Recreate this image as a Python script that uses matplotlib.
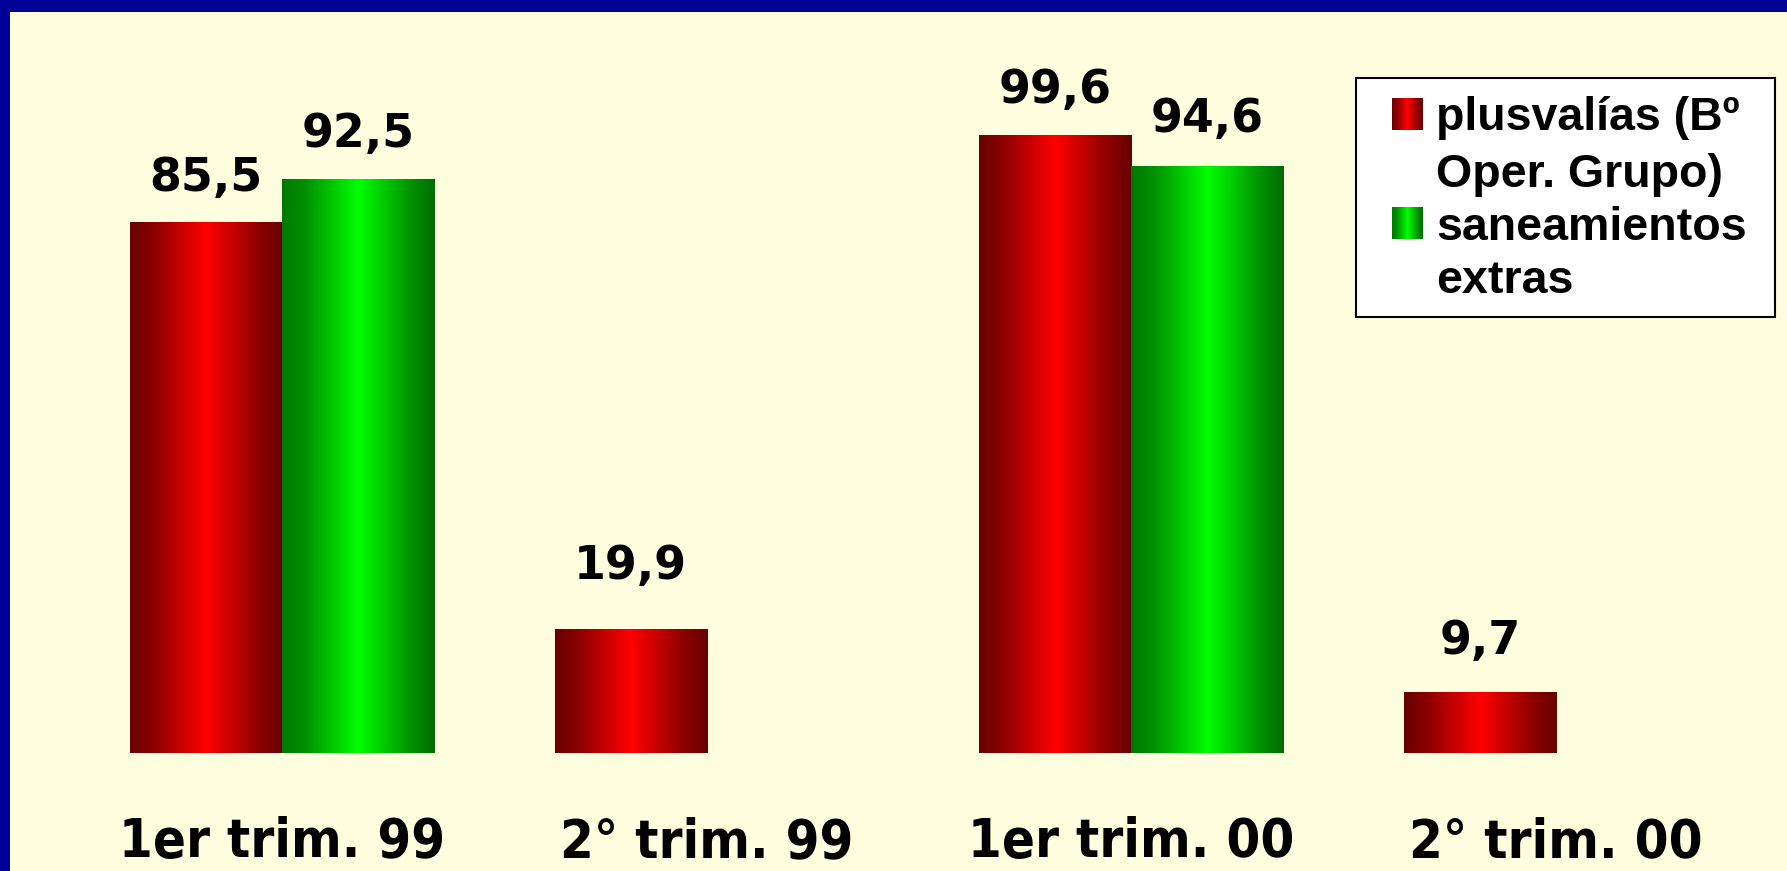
import numpy as np
import matplotlib
matplotlib.use("Agg")
import matplotlib.pyplot as plt
from matplotlib.colors import LinearSegmentedColormap
from matplotlib.patches import Rectangle

# quarterly figures (millones)
quarters = ["1er trim. 99", "2° trim. 99", "1er trim. 00", "2° trim. 00"]
plusvalias = [85.5, 19.9, 99.6, 9.7]
saneamientos = [92.5, 0.0, 94.6, 0.0]
series_names = ["plusvalías (Bº\nOper. Grupo)", "saneamientos\nextras"]

BG = "#FFFFE0"
W, H = 1787, 871

red_cmap = LinearSegmentedColormap.from_list(
    "redbar", [(0, "#680000"), (0.15, "#8a0000"), (0.5, "#ff0000"), (0.85, "#8a0000"), (1, "#680000")])
green_cmap = LinearSegmentedColormap.from_list(
    "greenbar", [(0, "#007800"), (0.15, "#009000"), (0.5, "#00ff00"), (0.85, "#009000"), (1, "#006c00")])
ramp = np.linspace(0, 1, 256).reshape(1, -1)

fig = plt.figure(figsize=(W / 100, H / 100), dpi=100, facecolor=BG)
ax = fig.add_axes([0, 0, 1, 1])
ax.set_facecolor(BG)
ax.axis("off")

step = 424.7       # px between groups
ppu = 6.2          # px per unit
x0 = -282 / step
y0 = -118 / ppu
xlim = (x0, x0 + W / step)
ylim = (y0, y0 + H / ppu)

width = 0.358
x = np.arange(len(quarters))


def gradient_bars(xs, vals, cmap):
    bars = ax.bar(xs, vals, width, color="none", edgecolor="none")
    for b in bars:
        if b.get_height() <= 0:
            continue
        ax.imshow(ramp, cmap=cmap, aspect="auto", interpolation="bicubic",
                  extent=(b.get_x(), b.get_x() + b.get_width(), 0, b.get_height()), zorder=2)
    return bars


gradient_bars(x - width / 2, plusvalias, red_cmap)
gradient_bars(x + width / 2, saneamientos, green_cmap)

# value labels, nudged a little like the original layout
label_pad = {0: [5.2, 8.2, 5.3, 6.3], 1: [5.2, None, 5.6, None]}
for s, (vals, off) in enumerate([(plusvalias, -width / 2), (saneamientos, width / 2)]):
    for i, v in enumerate(vals):
        if v <= 0:
            continue
        ax.text(x[i] + off, v + label_pad[s][i], f"{v:.1f}".replace(".", ","),
                ha="center", va="baseline", fontsize=33, fontweight="bold",
                family="DejaVu Sans", color="black", zorder=3)

for i, q in enumerate(quarters):
    ax.text(x[i], y0 + 14 / ppu, q, ha="center", va="baseline",
            fontsize=39, fontweight="bold", fontstretch="condensed",
            family="DejaVu Sans", color="black")

ax.set_xlim(*xlim)
ax.set_ylim(*ylim)

# overlay in pixel units for frame and legend
ov = fig.add_axes([0, 0, 1, 1], zorder=5)
ov.set_xlim(0, W)
ov.set_ylim(H, 0)
ov.axis("off")
ov.patch.set_alpha(0)

ov.add_patch(Rectangle((0, 0), W, 12, facecolor="#000099", edgecolor="none"))
ov.add_patch(Rectangle((0, 0), 10, H, facecolor="#000099", edgecolor="none"))

ov.add_patch(Rectangle((1356, 78), 419, 239, facecolor="white", edgecolor="black", lw=1.5))
swatches = [(98, red_cmap), (207, green_cmap)]
for (top, cmap) in swatches:
    ov.imshow(ramp, cmap=cmap, aspect="auto", interpolation="nearest",
              extent=(1392, 1423, top + 32, top), zorder=6)
baselines = [130, 187, 240, 293]
lines = series_names[0].split("\n") + series_names[1].split("\n")
for yb, t in zip(baselines, lines):
    ov.text(1436, yb, t, ha="left", va="baseline", fontsize=33.5, fontweight="bold",
            family=["Liberation Sans", "DejaVu Sans"], color="black", zorder=6)
ov.set_xlim(0, W)
ov.set_ylim(H, 0)

fig.savefig("out.png", dpi=100, facecolor=BG)
